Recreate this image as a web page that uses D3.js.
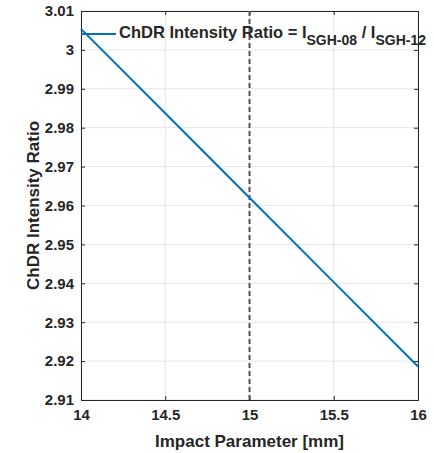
<!DOCTYPE html>
<html>
<head>
<meta charset="utf-8">
<script src="https://cdn.jsdelivr.net/npm/d3@7"></script>
<style>
  body { margin: 0; background: #fff; }
  text { font-family: "Liberation Sans", Arial, sans-serif; font-weight: bold; fill: #262626; }
</style>
</head>
<body>
<div id="chart"></div>
<script>
// impact parameter [mm] and ratio
var impactParam = [14, 14.5, 15, 15.5, 16];
var intensityRatio = [3.0054, 2.9837, 2.9620, 2.9403, 2.9186];
var xTicks = [14, 14.5, 15, 15.5, 16];
var yTicks = [2.91, 2.92, 2.93, 2.94, 2.95, 2.96, 2.97, 2.98, 2.99, 3, 3.01];
var markerX = 15;

var width = 434, height = 453;
var margin = { top: 11, right: 16, bottom: 53, left: 81 };
var w = width - margin.left - margin.right;
var h = height - margin.top - margin.bottom;

var svg = d3.select("#chart").append("svg")
  .attr("width", width)
  .attr("height", height);

var g = svg.append("g")
  .attr("transform", "translate(" + margin.left + "," + margin.top + ")");

var x = d3.scaleLinear().domain([14, 16]).range([0, w]);
var y = d3.scaleLinear().domain([2.91, 3.01]).range([h, 0]);

// grid
g.selectAll(".gx").data(xTicks).enter().append("line")
  .attr("x1", function(d) { return x(d); }).attr("x2", function(d) { return x(d); })
  .attr("y1", 0).attr("y2", h)
  .attr("stroke", "#e6e6e6").attr("stroke-width", 1);
g.selectAll(".gy").data(yTicks).enter().append("line")
  .attr("y1", function(d) { return y(d); }).attr("y2", function(d) { return y(d); })
  .attr("x1", 0).attr("x2", w)
  .attr("stroke", "#e6e6e6").attr("stroke-width", 1);

// axes, ticks inward on all four sides
var fmt = function(d) { return d3.format("")(+d.toFixed(2)); };
function styleAxis(sel) {
  sel.select(".domain").attr("stroke", "#262626");
  sel.selectAll(".tick line").attr("stroke", "#262626");
  sel.selectAll(".tick text")
    .style("font-size", "15px")
    .attr("fill", "#262626");
}
g.append("g").attr("transform", "translate(0," + h + ")")
  .call(d3.axisBottom(x).tickValues(xTicks).tickSize(-4).tickPadding(9).tickFormat(fmt))
  .call(styleAxis);
g.append("g")
  .call(d3.axisLeft(y).tickValues(yTicks).tickSize(-4).tickPadding(7).tickFormat(fmt))
  .call(styleAxis);
g.append("g")
  .call(d3.axisTop(x).tickValues(xTicks).tickSize(-4).tickFormat(""))
  .call(styleAxis);
g.append("g").attr("transform", "translate(" + w + ",0)")
  .call(d3.axisRight(y).tickValues(yTicks).tickSize(-4).tickFormat(""))
  .call(styleAxis);

// dashed marker
g.append("line")
  .attr("x1", x(markerX)).attr("x2", x(markerX))
  .attr("y1", 0).attr("y2", h)
  .attr("stroke", "#555").attr("stroke-width", 2)
  .attr("stroke-dasharray", "5,3");

// data line
var line = d3.line()
  .x(function(d, i) { return x(impactParam[i]); })
  .y(function(d) { return y(d); });
g.append("path")
  .datum(intensityRatio)
  .attr("d", line)
  .attr("fill", "none")
  .attr("stroke", "#0072bd")
  .attr("stroke-width", 2);

// legend
g.append("line")
  .attr("x1", 0).attr("x2", 35)
  .attr("y1", 23).attr("y2", 23)
  .attr("stroke", "#0072bd").attr("stroke-width", 2);
var lt = g.append("text")
  .attr("x", 38).attr("y", 26.5)
  .style("font-size", "16.5px")
  .attr("fill", "#000");
lt.append("tspan").text("ChDR Intensity Ratio = I");
lt.append("tspan").attr("dy", 7).style("font-size", "14px").text("SGH-08");
lt.append("tspan").attr("dy", -7).text(" / I");
lt.append("tspan").attr("dy", 7).style("font-size", "14px").text("SGH-12");

// axis labels
svg.append("text")
  .attr("x", margin.left + w / 2).attr("y", 447)
  .attr("text-anchor", "middle")
  .style("font-size", "17px")
  .text("Impact Parameter [mm]");
svg.append("text")
  .attr("transform", "translate(39," + (margin.top + h / 2) + ") rotate(-90)")
  .attr("text-anchor", "middle")
  .style("font-size", "17px")
  .text("ChDR Intensity Ratio");
</script>
</body>
</html>
